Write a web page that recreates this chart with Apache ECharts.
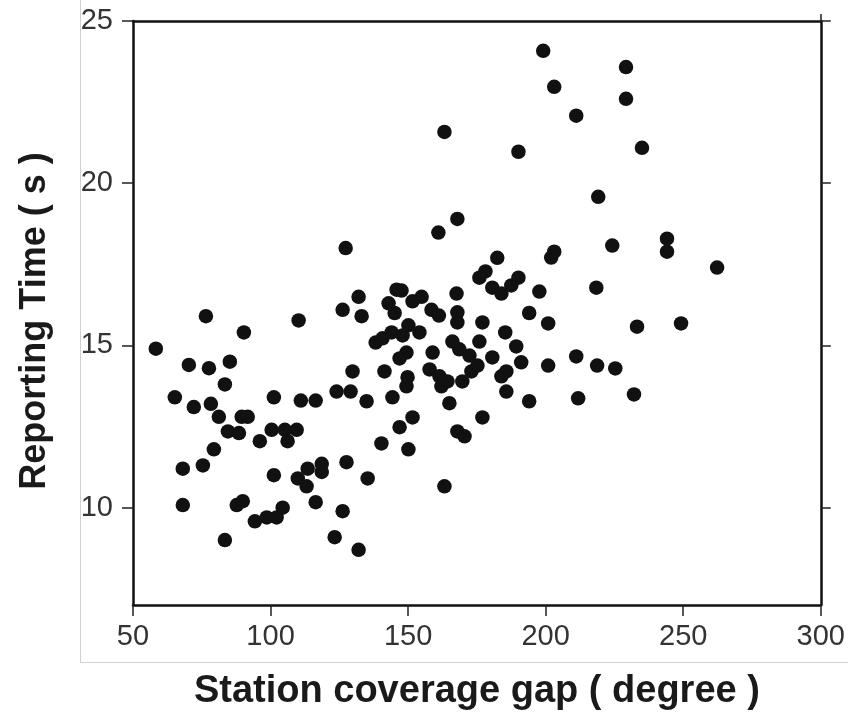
<!DOCTYPE html>
<html>
<head>
<meta charset="utf-8">
<script src="https://cdn.jsdelivr.net/npm/echarts@6/dist/echarts.min.js"></script>
<style>
html,body{margin:0;padding:0;background:#fff;}
#c{width:848px;height:719px;}
</style>
</head>
<body>
<div id="c"></div>
<script>
// Station coverage gap (degree)
const gap = [
  76.5,110.2,90.3,58.3,70.3,77.6,85.2,83.4,65.2,72.1,78.3,101.2,111,116.4,81.2,89.5,91.7,84.5,88.5,96.1,
  100.4,105.2,109.5,106.2,79.4,68.1,75.4,101.2,109.9,113.5,118.6,118.6,113.1,116.4,68.1,87.7,89.9,94.3,98.6,102.2,
  104.4,83.4,123.3,132,126.2,127.6,135.3,163.2,
  163.2,190.1,167.9,161,127.3,182.4,178.1,175.9,190.1,180.6,183.9,187.5,197.7,132,126.2,133.1,145.8,147.6,142.9,151.6,
  154.9,145.1,167.6,158.5,161.2,167.9,167.9,177,194,138.2,140.7,144,148,150.1,154.1,166.1,168.6,172.3,175.2,173,
  169.7,175.9,185.3,189.3,191.1,180.6,185.7,183.9,185.7,158.9,149.4,146.9,129.8,141.4,157.8,161.4,164.3,162.1,149.8,149.4,
  124,129.1,134.9,144.3,165,194,177,151.6,146.9,167.9,170.5,140.3,150.1,
  199.1,229.2,203.1,229.2,211.1,235,219.1,203.1,202,224.2,244.1,244.1,262.3,218.4,200.9,233.2,249.2,211.1,200.9,218.7,
  225.3,211.8,232.1
];
// Reporting time (s)
const time = [
  15.9,15.77,15.4,14.9,14.4,14.3,14.5,13.8,13.4,13.1,13.2,13.4,13.3,13.3,12.8,12.8,12.8,12.35,12.3,12.05,
  12.4,12.4,12.4,12.05,11.8,11.2,11.3,11.0,10.9,11.2,11.35,11.1,10.66,10.17,10.08,10.08,10.2,9.58,9.7,9.7,
  10.0,9.0,9.09,8.7,9.89,11.4,10.9,10.66,
  21.58,20.97,18.9,18.48,18.0,17.7,17.28,17.09,17.09,16.78,16.6,16.85,16.66,16.5,16.1,15.9,16.72,16.69,16.3,16.36,
  16.5,16.0,16.6,16.1,15.92,16.02,15.71,15.71,16.0,15.09,15.22,15.4,15.31,15.62,15.4,15.12,14.88,14.69,14.38,14.2,
  13.89,15.12,15.4,14.97,14.48,14.63,14.2,14.05,13.58,14.78,14.78,14.6,14.2,14.2,14.26,14.05,13.89,13.74,14.02,13.74,
  13.58,13.58,13.28,13.4,13.22,13.28,12.78,12.78,12.48,12.35,12.2,11.98,11.8,
  24.08,23.58,22.97,22.6,22.08,21.09,19.58,17.89,17.71,18.08,18.29,17.89,17.4,16.78,15.68,15.58,15.68,14.66,14.38,14.38,
  14.29,13.37,13.49
];
const xTicks = [50, 100, 150, 200, 250, 300];
const yTicks = [10, 15, 20, 25];

const points = gap.map((g, i) => [g, time[i]]);
const chart = echarts.init(document.getElementById('c'), null, {renderer: 'canvas'});
const axisLine = {show: true, lineStyle: {color: '#111', width: 2.5}};
const tickStyle = {color: '#222', width: 1.5};
const font = 'Liberation Sans, Arial, Helvetica, sans-serif';
chart.setOption({
  animation: false,
  backgroundColor: '#fff',
  grid: {left: 133, right: 26, top: 21, bottom: 114, containLabel: false},
  xAxis: [{
    type: 'value', min: 50, max: 300, interval: 50, position: 'bottom',
    name: 'Station coverage gap ( degree )', nameLocation: 'middle', nameGap: 68,
    nameTextStyle: {fontFamily: font, fontWeight: 'bold', fontSize: 38, color: '#1a1a1a'},
    axisLine: axisLine,
    axisTick: {show: true, inside: false, length: 11, lineStyle: tickStyle, customValues: xTicks},
    axisLabel: {fontFamily: font, fontSize: 29, color: '#333', margin: 17, customValues: xTicks},
    splitLine: {show: false}
  }, {
    type: 'value', min: 50, max: 300, interval: 50, position: 'top',
    axisLine: axisLine,
    axisTick: {show: true, inside: false, length: 7, lineStyle: tickStyle, customValues: [300]},
    axisLabel: {show: false},
    splitLine: {show: false}
  }],
  yAxis: [{
    type: 'value', min: 7, max: 25, position: 'left',
    name: 'Reporting Time ( s )', nameLocation: 'middle', nameGap: 80, nameRotate: 90,
    nameTextStyle: {fontFamily: font, fontWeight: 'bold', fontSize: 36, color: '#1a1a1a', padding: [0, 16, 0, 0]},
    axisLine: axisLine,
    axisTick: {show: true, inside: false, length: 11, lineStyle: tickStyle, customValues: yTicks},
    axisLabel: {fontFamily: font, fontSize: 29, color: '#333', margin: 20, customValues: yTicks},
    splitLine: {show: false}
  }, {
    type: 'value', min: 7, max: 25, position: 'right',
    axisLine: axisLine,
    axisTick: {show: true, inside: false, length: 10, lineStyle: tickStyle, customValues: yTicks},
    axisLabel: {show: false},
    splitLine: {show: false}
  }],
  graphic: [
    {type: 'line', shape: {x1: 80.5, y1: 0, x2: 80.5, y2: 662.5}, style: {stroke: '#d0d0d0', lineWidth: 1}, silent: true},
    {type: 'line', shape: {x1: 80.5, y1: 662.5, x2: 848, y2: 662.5}, style: {stroke: '#d0d0d0', lineWidth: 1}, silent: true}
  ],
  series: [{
    type: 'scatter',
    xAxisIndex: 0, yAxisIndex: 0,
    data: points,
    symbol: 'circle',
    symbolSize: 14.5,
    itemStyle: {color: '#111', opacity: 1},
    emphasis: {disabled: true}
  }]
});
</script>
</body>
</html>
